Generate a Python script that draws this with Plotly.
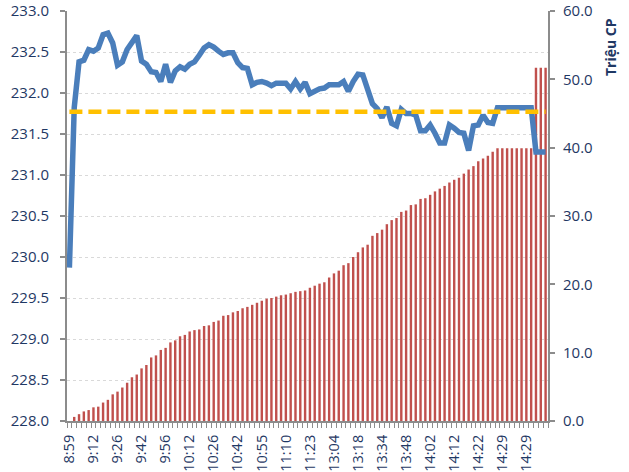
import plotly.graph_objects as go

# Tick labels shown every 5th interval on the x axis
tick_labels = ["8:59", "9:12", "9:26", "9:42", "9:56", "10:12", "10:26", "10:42",
               "10:55", "11:10", "11:23", "13:04", "13:18", "13:34", "13:48",
               "14:02", "14:12", "14:22", "14:29", "14:29"]

# Price (left axis), one value per interval
price = [229.87, 231.82, 232.38, 232.40, 232.53, 232.51, 232.55, 232.71, 232.73, 232.61,
         232.34, 232.38, 232.53, 232.62, 232.70, 232.39, 232.35, 232.26, 232.25, 232.14,
         232.35, 232.13, 232.27, 232.32, 232.29, 232.35, 232.38, 232.46, 232.55, 232.59,
         232.56, 232.51, 232.47, 232.49, 232.49, 232.37, 232.31, 232.30, 232.10, 232.13,
         232.14, 232.12, 232.09, 232.12, 232.12, 232.12, 232.05, 232.14, 232.05, 232.13,
         231.99, 232.03, 232.05, 232.06, 232.10, 232.10, 232.10, 232.14, 232.02, 232.14,
         232.23, 232.22, 232.02, 231.87, 231.81, 231.70, 231.83, 231.63, 231.60, 231.80,
         231.75, 231.75, 231.73, 231.54, 231.54, 231.61, 231.51, 231.39, 231.39, 231.61,
         231.57, 231.52, 231.51, 231.30, 231.60, 231.61, 231.73, 231.64, 231.63, 231.82,
         231.82, 231.82, 231.82, 231.82, 231.82, 231.82, 231.82, 231.28, 231.28, 231.28]

# Cumulative volume, million shares (right axis)
volume = [0.0, 0.6, 1.0, 1.4, 1.6, 2.0, 2.1, 2.7, 3.1, 3.9,
          4.3, 4.9, 5.6, 6.4, 6.8, 7.7, 8.2, 9.3, 9.6, 10.4,
          10.7, 11.5, 11.8, 12.4, 12.6, 13.1, 13.3, 13.4, 13.9, 14.0,
          14.5, 14.7, 15.4, 15.5, 15.9, 16.1, 16.5, 16.7, 17.0, 17.3,
          17.6, 17.9, 18.0, 18.2, 18.4, 18.5, 18.7, 18.9, 19.0, 19.1,
          19.5, 19.8, 20.1, 20.3, 21.0, 21.6, 22.0, 22.8, 23.1, 24.0,
          24.7, 25.4, 25.8, 27.1, 27.5, 28.0, 28.8, 29.4, 29.7, 30.6,
          30.8, 31.6, 31.7, 32.5, 32.6, 33.1, 33.6, 34.0, 34.4, 34.9,
          35.3, 35.6, 36.2, 36.8, 37.3, 38.0, 38.4, 38.8, 39.4, 39.9,
          39.9, 39.9, 39.9, 39.9, 39.9, 39.9, 39.9, 51.7, 51.7, 51.7]

avg_price = 231.77

x = list(range(len(price)))
navy = "#1F3864"
axis_grey = "#8C8C8C"
font_family = "Open Sans"

fig = go.Figure()

# bars on the primary (right-side) axis so the price lines draw on top
fig.add_trace(go.Bar(x=x, y=volume, marker=dict(color="#C0504D", line=dict(width=0)),
                     yaxis="y", showlegend=False))
fig.add_trace(go.Scatter(x=x, y=price, mode="lines", yaxis="y2",
                         line=dict(color="#4A7EBB", width=5.5), showlegend=False))
fig.add_trace(go.Scatter(x=x, y=[avg_price] * len(x), mode="lines", yaxis="y2",
                         line=dict(color="#FFC000", width=4.5, dash="13px,6px"),
                         showlegend=False))

fig.update_layout(
    width=629, height=472,
    margin=dict(l=67, r=81, t=11, b=51),
    paper_bgcolor="white", plot_bgcolor="white",
    bargap=0.5,
    font=dict(family=font_family, size=15, color=navy),
    xaxis=dict(
        range=[-0.5, len(x) - 0.5], automargin=False,
        tickmode="array", tickvals=x[::5], ticktext=tick_labels,
        tickangle=-90, ticks="", showgrid=False, zeroline=False,
        showline=True, linecolor=axis_grey, linewidth=2,
        ticklabelstandoff=6,
        tickfont=dict(size=14.5, color=navy),
        minor=dict(ticks="outside", tick0=-0.5, dtick=1, ticklen=5,
                   tickcolor=axis_grey, tickwidth=1, showgrid=False),
    ),
    yaxis=dict(
        side="right", range=[0, 60], dtick=10, tickformat=".1f", automargin=False,
        ticks="outside", ticklen=5, tickcolor=axis_grey, tickwidth=2,
        showline=True, linecolor=axis_grey, linewidth=2,
        showgrid=False, zeroline=False, ticklabelstandoff=5,
        ticklabeloverflow="allow",
        tickfont=dict(size=15, color=navy),
    ),
    yaxis2=dict(
        overlaying="y", side="left", range=[228, 233], dtick=0.5, tickformat=".1f",
        automargin=False,
        ticks="outside", ticklen=5, tickcolor=axis_grey, tickwidth=2,
        showline=True, linecolor=axis_grey, linewidth=2,
        showgrid=True, gridcolor="#D9D9D9", gridwidth=1, griddash="3px,3px",
        zeroline=False, ticklabelstandoff=8, ticklabeloverflow="allow",
        tickfont=dict(size=15, color=navy),
    ),
    annotations=[dict(text="<b>Triệu CP</b>", xref="paper", yref="paper",
                      x=1.130, y=0.911, xanchor="center", yanchor="middle",
                      textangle=-90, showarrow=False,
                      font=dict(size=14, color=navy, family=font_family))],
)

# drop the default page margin so the figure fills the window exactly
fig.write_html("out.html", config={"displayModeBar": False},
               post_script="document.body.style.margin = '0';")
